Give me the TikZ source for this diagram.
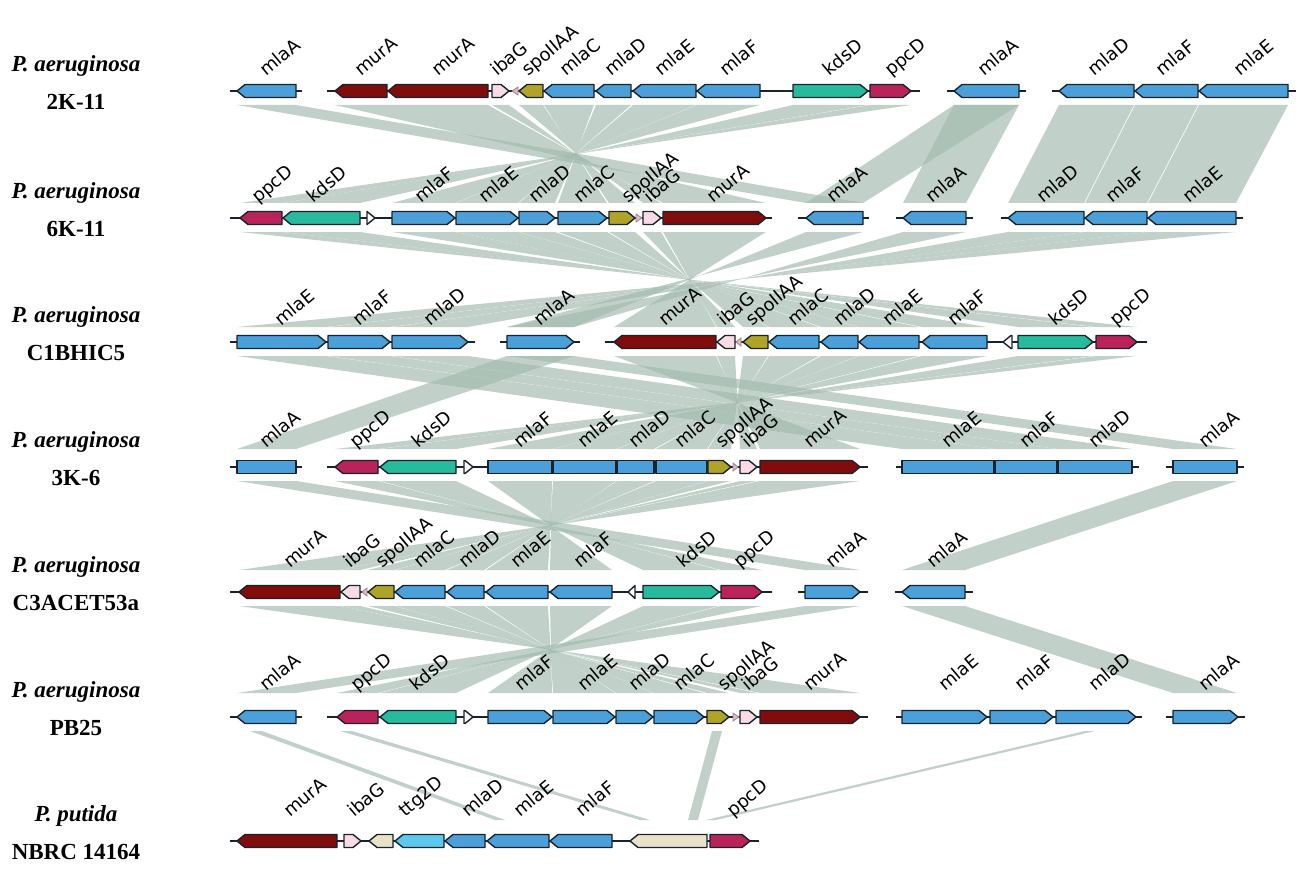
\documentclass[tikz,border=0pt]{standalone}
\usepackage{fontspec}
\setmainfont{Liberation Serif}
\newfontfamily\genefont{DejaVu Sans}
\tikzset{>=latex}

\definecolor{mla}{RGB}{76,160,217}
\definecolor{mur}{RGB}{128,12,12}
\definecolor{iba}{RGB}{250,218,228}
\definecolor{spo}{RGB}{176,164,40}
\definecolor{kds}{RGB}{40,186,156}
\definecolor{ppc}{RGB}{186,34,90}
\definecolor{ttg}{RGB}{92,200,238}
\definecolor{beig}{RGB}{232,226,200}
\definecolor{wht}{RGB}{255,255,255}
\definecolor{tiny}{RGB}{222,186,198}
\definecolor{homcol}{RGB}{160,185,172}
\definecolor{edge}{RGB}{25,35,45}

\tikzset{
  gbody/.style={draw=edge, line width=0.7pt, line join=round},
  bb/.style={draw=edge, line width=0.7pt},
  hom/.style={fill=homcol, fill opacity=0.65},
  glab/.style={font=\genefont\fontsize{9}{10}\selectfont, rotate=40, anchor=base west, inner sep=0pt},
  orglab/.style={font=\bfseries\fontsize{11.5}{13}\selectfont, inner sep=0pt}
}

% gene arrow: x1, x2, y, direction (1 right, -1 left, 0 box), colour
\newcommand{\gene}[5]{%
  \pgfmathsetmacro{\gtip}{min(8,#2-#1)}%
  \ifnum#4=1
    \filldraw[gbody,fill=#5] (#1,#3-6.5) -- (#2-\gtip,#3-6.5) -- (#2,#3) -- (#2-\gtip,#3+6.5) -- (#1,#3+6.5) -- cycle;
  \else\ifnum#4=-1
    \filldraw[gbody,fill=#5] (#2,#3-6.5) -- (#1+\gtip,#3-6.5) -- (#1,#3) -- (#1+\gtip,#3+6.5) -- (#2,#3+6.5) -- cycle;
  \else
    \filldraw[gbody,fill=#5] (#1,#3-6.5) rectangle (#2,#3+6.5);
  \fi\fi}
% small unlabelled orf
\newcommand{\tinyg}[4]{%
  \ifnum#4=1
    \filldraw[draw=tiny!70!black,line width=0.4pt,fill=tiny] (#1,#3-4) -- (#2,#3) -- (#1,#3+4) -- cycle;
  \else
    \filldraw[draw=tiny!70!black,line width=0.4pt,fill=tiny] (#2,#3-4) -- (#1,#3) -- (#2,#3+4) -- cycle;
  \fi}
% homology ribbon: top x1..x2 to bottom x3..x4
\newcommand{\band}[6]{\fill[hom] (#1,#5) -- (#2,#5) -- (#4,#6) -- (#3,#6) -- cycle;}

\begin{document}
\begin{tikzpicture}[x=0.5pt,y=-0.5pt]
\useasboundingbox (0,0) rectangle (1299,877);

% ribbons
\foreach \a/\b/\c/\d in {237/296/806/863, 335/488/766/663, 492/509/661/643, 519/543/635/609,
  544/594/607/558, 596/631/555/519, 633/696/518/456, 697/760/455/392, 793/868/360/283,
  870/911/282/240, 954/1019/903/966, 954/1019/806/863, 1059/1134/1008/1084, 1135/1198/1085/1147,
  1199/1288/1148/1236}
  \band{\a}{\b}{\c}{\d}{105}{203};
\foreach \a/\b/\c/\d in {240/282/1137/1096, 283/360/1093/1018, 392/455/987/922, 456/518/919/859,
  519/555/858/821, 558/607/819/769, 609/635/768/743, 643/661/735/717, 663/766/716/614,
  806/863/574/507, 903/966/574/507, 1008/1084/468/392, 1085/1147/390/328, 1148/1236/326/237}
  \band{\a}{\b}{\c}{\d}{232}{327};
\foreach \a/\b/\c/\d in {237/326/902/994, 328/390/995/1057, 392/468/1058/1132, 507/574/237/296,
  507/574/1173/1237, 614/716/860/760, 717/735/757/740, 743/768/731/708, 769/819/707/656,
  821/858/654/617, 859/919/616/553, 922/987/552/488, 1018/1093/456/380, 1096/1137/378/335}
  \band{\a}{\b}{\c}{\d}{356}{449};
\foreach \a/\b/\c/\d in {237/296/805/860, 335/378/762/721, 380/456/719/643, 488/552/612/550,
  553/616/548/486, 617/654/484/447, 656/707/445/395, 708/731/394/368, 740/757/360/341,
  760/860/340/239, 1173/1237/902/965}
  \band{\a}{\b}{\c}{\d}{481}{570};
\foreach \a/\b/\c/\d in {239/340/860/760, 341/360/757/740, 368/394/729/707, 395/445/704/654,
  447/484/653/616, 486/548/615/553, 550/612/552/488, 643/719/456/380, 721/762/378/337,
  805/860/237/296, 902/965/1173/1237}
  \band{\a}{\b}{\c}{\d}{606}{693};
\foreach \a/\b/\c/\d in {250/262/495/505, 340/352/640/650, 712/722/688/698, 1085/1095/706/716}
  \band{\a}{\b}{\c}{\d}{731}{820};

% backbones
\foreach \a/\b/\y in {230/302/91, 327/920/91, 947/1026/91, 1052/1296/91,
  230/772/218, 798/869/218, 896/973/218, 1001/1243/218,
  230/475/342, 500/580/342, 605/1147/342,
  230/302/467, 327/868/467, 896/1139/467, 1166/1244/467,
  230/772/592, 798/868/592, 895/973/592,
  230/302/717, 327/868/717, 896/1142/717, 1166/1245/717,
  230/759/841}
  \draw[bb] (\a,\y) -- (\b,\y);

% genes
\foreach \a/\b/\d/\c in {237/296/-1/mla, 335/387/-1/mur, 388/488/-1/mur, 492/509/1/iba, 519/543/-1/spo,
  544/594/-1/mla, 596/631/-1/mla, 633/696/-1/mla, 697/760/-1/mla, 793/868/1/kds, 870/911/1/ppc,
  954/1019/-1/mla, 1059/1134/-1/mla, 1135/1198/-1/mla, 1199/1288/-1/mla}
  \gene{\a}{\b}{91}{\d}{\c};
\tinyg{512}{518}{91}{-1}
\foreach \a/\b/\d/\c in {240/282/-1/ppc, 283/360/-1/kds, 367/375/1/wht, 392/455/1/mla, 456/518/1/mla,
  519/555/1/mla, 558/607/1/mla, 609/635/1/spo, 643/661/1/iba, 663/766/1/mur, 806/863/-1/mla,
  903/966/-1/mla, 1008/1084/-1/mla, 1085/1147/-1/mla, 1148/1236/-1/mla}
  \gene{\a}{\b}{218}{\d}{\c};
\tinyg{636}{642}{218}{1}
\foreach \a/\b/\d/\c in {237/326/1/mla, 328/390/1/mla, 392/468/1/mla, 507/574/1/mla, 614/716/-1/mur,
  717/735/-1/iba, 743/768/-1/spo, 769/819/-1/mla, 821/858/-1/mla, 859/919/-1/mla, 922/987/-1/mla,
  1003/1012/-1/wht, 1018/1093/1/kds, 1096/1137/1/ppc}
  \gene{\a}{\b}{342}{\d}{\c};
\tinyg{736}{741}{342}{-1}
\foreach \a/\b/\d/\c in {237/296/0/mla, 335/378/-1/ppc, 380/456/-1/kds, 464/473/1/wht, 488/552/0/mla,
  553/616/0/mla, 617/654/0/mla, 656/707/0/mla, 708/731/1/spo, 740/757/1/iba, 760/860/1/mur,
  902/994/0/mla, 995/1057/0/mla, 1058/1132/0/mla, 1173/1237/0/mla}
  \gene{\a}{\b}{467}{\d}{\c};
\tinyg{733}{738}{467}{1}
\foreach \a/\b/\d/\c in {239/340/-1/mur, 341/360/-1/iba, 368/394/-1/spo, 395/445/-1/mla, 447/484/-1/mla,
  486/548/-1/mla, 550/612/-1/mla, 628/635/-1/wht, 643/719/1/kds, 721/762/1/ppc, 805/860/1/mla,
  902/965/-1/mla}
  \gene{\a}{\b}{592}{\d}{\c};
\tinyg{362}{367}{592}{-1}
\foreach \a/\b/\d/\c in {237/296/-1/mla, 337/378/-1/ppc, 380/456/-1/kds, 464/473/1/wht, 488/552/1/mla,
  553/615/1/mla, 616/653/1/mla, 654/704/1/mla, 707/729/1/spo, 740/757/1/iba, 760/860/1/mur,
  902/987/1/mla, 990/1053/1/mla, 1056/1136/1/mla, 1173/1238/1/mla}
  \gene{\a}{\b}{717}{\d}{\c};
\tinyg{733}{739}{717}{1}
\foreach \a/\b/\d/\c in {237/337/-1/mur, 344/361/1/iba, 369/393/-1/beig, 395/444/-1/ttg, 445/485/-1/mla,
  487/549/-1/mla, 550/612/-1/mla, 630/707/-1/beig, 710/750/1/ppc}
  \gene{\a}{\b}{841}{\d}{\c};

% gene names
\foreach \x/\t [count=\i] in {266/mlaA, 361/murA, 438/murA, 497/ibaG, 528/spoIIAA, 566/mlaC, 611/mlaD,
  661/mlaE, 726/mlaF, 829/kdsD, 891/ppcD, 984/mlaA, 1094/mlaD, 1162/mlaF, 1240/mlaE}
  \node[glab] (ga\i) at (\x,77) {\t};
\foreach \x/\t [count=\i] in {258/ppcD, 313/kdsD, 421/mlaF, 485/mlaE, 535/mlaD, 580/mlaC, 628/spoIIAA,
  650/ibaG, 713/murA, 833/mlaA, 932/mlaA, 1043/mlaD, 1112/mlaF, 1189/mlaE}
  \node[glab] (gb\i) at (\x,204) {\t};
\foreach \x/\t [count=\i] in {281/mlaE, 359/mlaF, 430/mlaD, 540/mlaA, 665/murA, 724/ibaG, 752/spoIIAA,
  794/mlaC, 840/mlaD, 889/mlaE, 954/mlaF, 1055/kdsD, 1116/ppcD}
  \node[glab] (gc\i) at (\x,327) {\t};
\foreach \x/\t [count=\i] in {266/mlaA, 356/ppcD, 418/kdsD, 520/mlaF, 584/mlaE, 635/mlaD, 681/mlaC,
  722/spoIIAA, 748/ibaG, 810/murA, 948/mlaE, 1026/mlaF, 1095/mlaD, 1205/mlaA}
  \node[glab] (gd\i) at (\x,449) {\t};
\foreach \x/\t [count=\i] in {290/murA, 350/ibaG, 382/spoIIAA, 420/mlaC, 465/mlaD, 517/mlaE, 580/mlaF,
  683/kdsD, 740/ppcD, 832/mlaA, 933/mlaA}
  \node[glab] (ge\i) at (\x,569) {\t};
\foreach \x/\t [count=\i] in {266/mlaA, 357/ppcD, 416/kdsD, 521/mlaF, 584/mlaE, 635/mlaD, 680/mlaC,
  724/spoIIAA, 748/ibaG, 810/murA, 945/mlaE, 1021/mlaF, 1095/mlaD, 1205/mlaA}
  \node[glab] (gf\i) at (\x,692) {\t};
\foreach \x/\t [count=\i] in {290/murA, 354/ibaG, 405/ttg2D, 468/mlaD, 520/mlaE, 582/mlaF, 733/ppcD}
  \node[glab] (gg\i) at (\x,818) {\t};

% strains
\foreach \y/\o/\s [count=\i] in {91/aeruginosa/2K-11, 218/aeruginosa/6K-11, 342/aeruginosa/C1BHIC5,
  467/aeruginosa/3K-6, 592/aeruginosa/C3ACET53a, 717/aeruginosa/PB25, 841/putida/NBRC 14164}
{
  \node[orglab] (org\i) at (76,\y-25) {\textit{P. \o}};
  \node[orglab] (str\i) at (76,\y+11) {\s};
}
\end{tikzpicture}
\end{document}
